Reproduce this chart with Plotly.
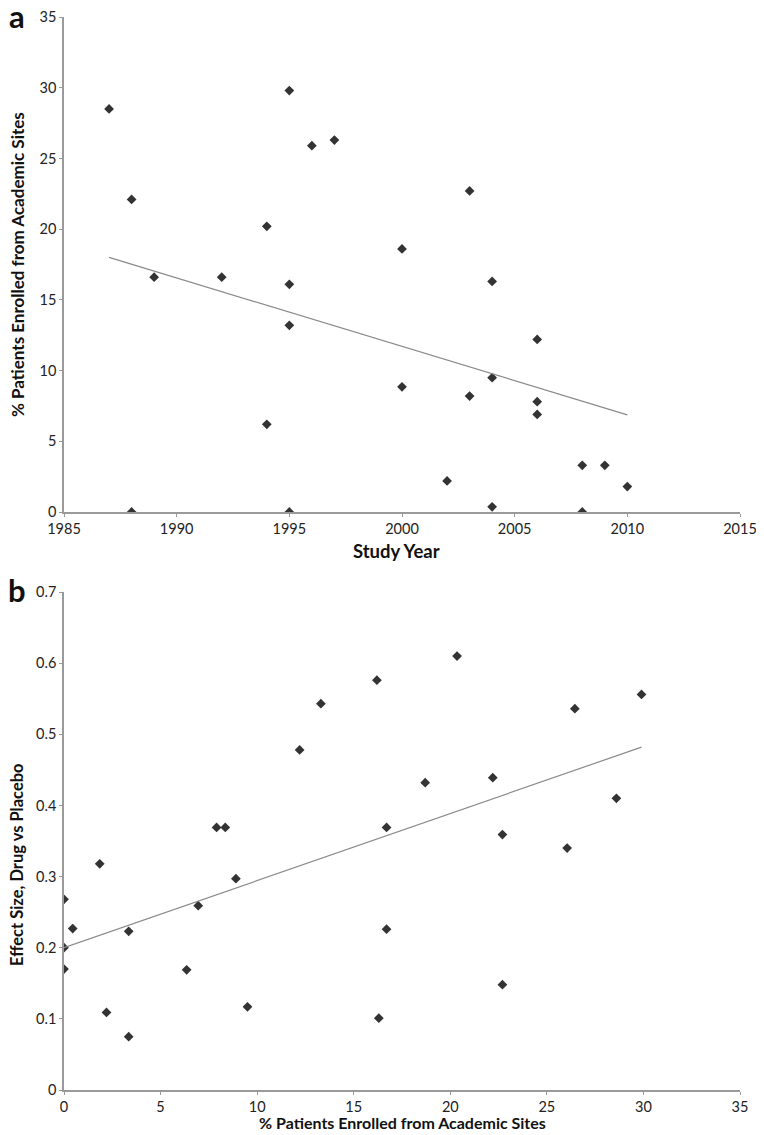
import plotly.graph_objects as go

# Panel a: study year vs % patients enrolled from academic sites
year = [1987, 1988, 1988, 1989, 1992, 1994, 1994, 1995, 1995, 1995, 1995, 1996, 1997,
        2000, 2000, 2002, 2003, 2003, 2004, 2004, 2004, 2006, 2006, 2006, 2008, 2008, 2009, 2010]
pct_academic = [28.5, 22.1, 0.0, 16.6, 16.6, 20.2, 6.2, 29.8, 16.1, 13.2, 0.0, 25.9, 26.3,
                18.6, 8.85, 2.2, 22.7, 8.2, 16.3, 9.5, 0.37, 12.2, 7.8, 6.9, 3.3, 0.0, 3.3, 1.8]
# trend line of panel a, as drawn in the figure
trend_a_x = [1987, 2010]
trend_a_y = [18.0, 6.87]

# Panel b: % patients enrolled from academic sites vs effect size
pct_b = [0.0, 0.0, 0.0, 0.45, 1.85, 2.2, 3.35, 3.35, 6.35, 6.95, 7.9, 8.35, 8.9, 9.5,
         12.2, 13.3, 16.2, 16.3, 16.7, 16.7, 18.7, 20.35, 22.2, 22.7, 22.7, 26.05, 26.45, 28.6, 29.9]
effect_size = [0.268, 0.200, 0.170, 0.227, 0.318, 0.109, 0.223, 0.075, 0.169, 0.259, 0.369, 0.369,
               0.297, 0.117, 0.478, 0.543, 0.576, 0.101, 0.369, 0.226, 0.432, 0.610, 0.439, 0.359,
               0.148, 0.340, 0.536, 0.410, 0.556]
# trend line of panel b, as drawn in the figure
trend_b_x = [0.0, 29.9]
trend_b_y = [0.200, 0.482]

xticks_a = [1985, 1990, 1995, 2000, 2005, 2010, 2015]
yticks_a = [0, 5, 10, 15, 20, 25, 30, 35]
xticks_b = [0, 5, 10, 15, 20, 25, 30, 35]
yticks_b = [0, 0.1, 0.2, 0.3, 0.4, 0.5, 0.6, 0.7]

FONT = "Lato"
MK = dict(symbol="diamond", size=7.5, color="#333333")
LN = dict(color="#8a8a8a", width=1.2)

fig = go.Figure()
fig.add_trace(go.Scatter(x=year, y=pct_academic, mode="markers", marker=MK, xaxis="x", yaxis="y"))
fig.add_trace(go.Scatter(x=trend_a_x, y=trend_a_y, mode="lines", line=LN, xaxis="x", yaxis="y"))
fig.add_trace(go.Scatter(x=pct_b, y=effect_size, mode="markers", marker=MK, xaxis="x2", yaxis="y2"))
fig.add_trace(go.Scatter(x=trend_b_x, y=trend_b_y, mode="lines", line=LN, xaxis="x2", yaxis="y2"))

axis_common = dict(showgrid=False, zeroline=False, showline=True, linecolor="#9a9a9a", linewidth=1.5,
                   ticks="outside", ticklen=3, tickcolor="#9a9a9a", automargin=False,
                   ticklabeloverflow="allow",
                   tickfont=dict(family=FONT, size=14.5, color="#222222"))

# the page body adds an 8px offset; the figure is sized so the visible layout matches
OFF = 8
W, H = 764 - OFF, 1135 - OFF
# target screen positions of the plot areas
PL, PR = 64, 740
A_TOP, A_BOT = 17, 512
B_TOP, B_BOT = 592, 1090
L, R, T, B = PL - OFF, W - (PR - OFF), A_TOP - OFF, H - (B_BOT - OFF)
ph = H - T - B


def py2paper(py):
    return (H - B - (py - OFF)) / ph


def px2paper(px):
    return (px - OFF - L) / (W - L - R)


fig.update_layout(
    template="none",
    width=W, height=H,
    margin=dict(l=L, r=R, t=T, b=B, pad=0),
    paper_bgcolor="white", plot_bgcolor="white",
    showlegend=False,
    xaxis=dict(domain=[0, 1], range=[1985, 2015], tickvals=xticks_a, anchor="y", **axis_common),
    yaxis=dict(domain=[py2paper(A_BOT), py2paper(A_TOP)], range=[0, 35], tickvals=yticks_a,
               anchor="x", **axis_common),
    xaxis2=dict(domain=[0, 1], range=[0, 35], tickvals=xticks_b, anchor="y2", **axis_common),
    yaxis2=dict(domain=[py2paper(B_BOT), py2paper(B_TOP)], range=[0, 0.7], tickvals=yticks_b,
                anchor="x2", **axis_common),
)

ann = [
    dict(text="<b>a</b>", x=17, y=16, font=dict(family=FONT, size=31, color="#111111")),
    dict(text="<b>b</b>", x=17, y=590, font=dict(family=FONT, size=31, color="#111111")),
    dict(text="<b>Study Year</b>", x=396, y=551, font=dict(family=FONT, size=18.5, color="#111111")),
    dict(text="<b>% Patients Enrolled from Academic Sites</b>", x=17, y=265, textangle=-90,
         font=dict(family=FONT, size=17, color="#111111")),
    dict(text="<b>% Patients Enrolled from Academic Sites</b>", x=402, y=1122,
         font=dict(family=FONT, size=16, color="#111111")),
    dict(text="<b>Effect Size, Drug vs Placebo</b>", x=17, y=865, textangle=-90,
         font=dict(family=FONT, size=16.5, color="#111111")),
]
annotations = []
for a in ann:
    px, py = a.pop("x"), a.pop("y")
    annotations.append(dict(xref="paper", yref="paper", x=px2paper(px), y=py2paper(py),
                            xanchor="center", yanchor="middle", showarrow=False, **a))
fig.update_layout(annotations=annotations)

fig.write_html("out.html")
